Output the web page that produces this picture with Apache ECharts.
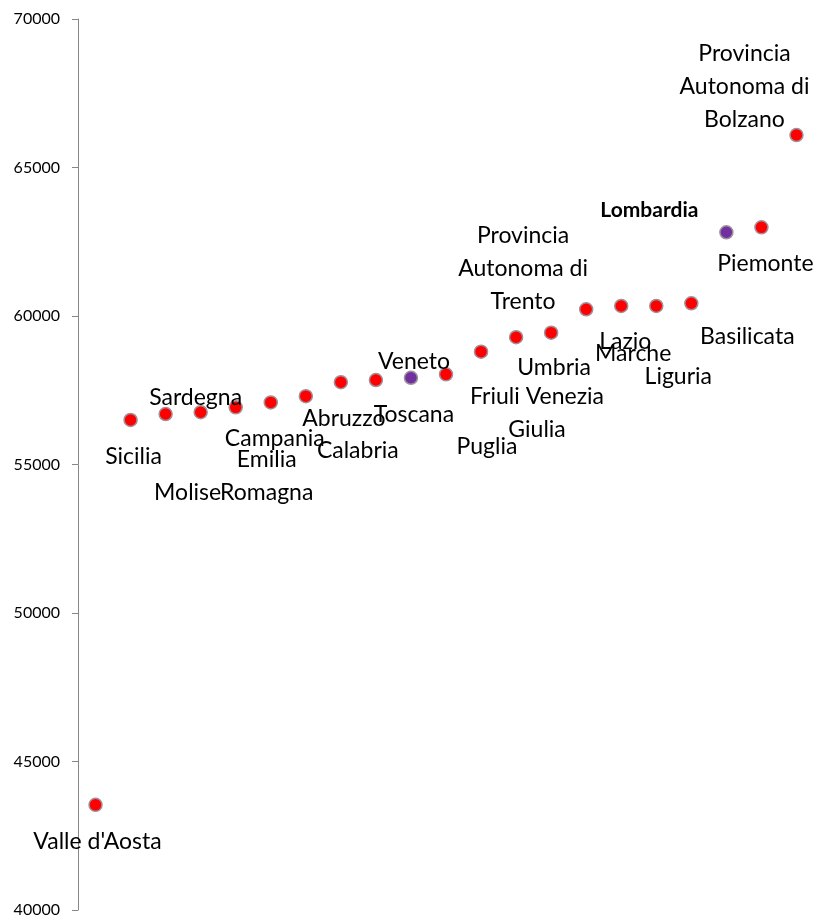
<!DOCTYPE html>
<html>
<head>
<meta charset="utf-8">
<script src="https://cdn.jsdelivr.net/npm/echarts@6/dist/echarts.min.js"></script>
<style>
  html, body { margin: 0; padding: 0; background: #fff; }
  #chart { width: 823px; height: 919px; }
</style>
</head>
<body>
<div id="chart"></div>
<script>
// regions, in order of rank (x position)
const regions = [
  "Valle d'Aosta", 'Sicilia', 'Sardegna', 'Molise', 'Emilia\nRomagna', 'Campania',
  'Calabria', 'Abruzzo', 'Toscana', 'Veneto', 'Puglia', 'Friuli Venezia\nGiulia',
  'Provincia\nAutonoma di\nTrento', 'Umbria', 'Marche', 'Lazio', 'Liguria', 'Basilicata',
  'Lombardia', 'Piemonte', 'Provincia\nAutonoma di\nBolzano'
];
const values = [
  43540, 56500, 56700, 56760, 56925, 57090,
  57300, 57770, 57845, 57920, 58035, 58800,
  59285, 59440, 60226, 60337, 60337, 60428,
  62818, 62986, 66094
];
const highlighted = ['Veneto', 'Lombardia'];
const yTicks = { min: 40000, max: 70000, step: 5000 };

// where each data label sits relative to its dot (px)
const labelOffsets = [
  [2, 37], [3, 37], [30, -16], [-13, 80], [31, 69], [4, 36],
  [52, 54], [3, 36], [38, 35], [3, -16], [41, 72], [56, 61],
  [7, -69], [3, 35], [47, 44], [4, 36], [22, 71], [56, 33],
  [-77, -22], [4, 36], [-52, -48]
];

const chart = echarts.init(document.getElementById('chart'));

const points = values.map((v, i) => {
  const hi = highlighted.includes(regions[i]);
  const bold = regions[i] === 'Lombardia';
  return {
    name: regions[i],
    value: [i + 1, v],
    itemStyle: { color: hi ? '#7030a0' : '#ff0000' },
    label: {
      offset: labelOffsets[i],
      fontWeight: bold ? 'bold' : 'normal',
      fontSize: bold ? 21 : 23
    }
  };
});

chart.setOption({
  animation: false,
  backgroundColor: '#fff',
  textStyle: { fontFamily: 'Lato' },
  grid: { left: 78, right: 9, top: 19, bottom: 9, containLabel: false },
  xAxis: {
    type: 'value',
    min: 0.5,
    max: regions.length + 0.5,
    show: false
  },
  yAxis: {
    type: 'value',
    min: yTicks.min,
    max: yTicks.max,
    interval: yTicks.step,
    splitLine: { show: false },
    axisLine: { show: true, lineStyle: { color: '#868686', width: 1 } },
    axisTick: { show: true, inside: false, length: 6, lineStyle: { color: '#868686' } },
    axisLabel: {
      margin: 18, color: '#000', fontSize: 16, fontFamily: 'Lato',
      formatter: v => String(v)
    }
  },
  series: [{
    type: 'scatter',
    symbol: 'circle',
    symbolSize: 13,
    itemStyle: { borderColor: '#a0909a', borderWidth: 1.5, opacity: 1 },
    emphasis: { disabled: true },
    label: {
      show: true,
      position: 'inside',
      formatter: p => p.name,
      color: '#000',
      textBorderWidth: 0,
      fontFamily: 'Lato',
      fontSize: 23,
      lineHeight: 33,
      align: 'center'
    },
    data: points
  }]
});
</script>
</body>
</html>
